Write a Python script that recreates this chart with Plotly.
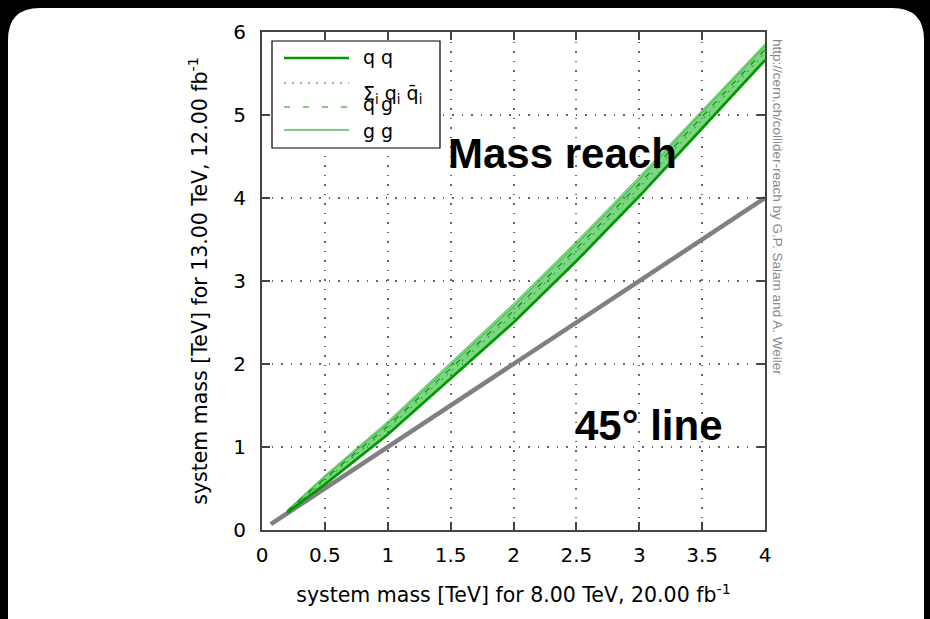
import plotly.graph_objects as go

# ---- data ----
mass_8tev = [0.2, 0.5, 1.0, 1.5, 2.0, 2.5, 3.0, 3.5, 4.0]
band_low = [0.21, 0.55, 1.15, 1.82, 2.50, 3.24, 4.02, 4.84, 5.66]
band_high = [0.24, 0.66, 1.31, 2.02, 2.73, 3.48, 4.26, 5.06, 5.86]
qq = [0.21, 0.55, 1.15, 1.82, 2.50, 3.24, 4.02, 4.84, 5.66]
sum_qqbar = [0.22, 0.60, 1.22, 1.91, 2.60, 3.35, 4.13, 4.94, 5.75]
qg = [0.23, 0.62, 1.25, 1.94, 2.64, 3.39, 4.17, 4.98, 5.79]
gg = [0.235, 0.64, 1.28, 1.98, 2.69, 3.44, 4.22, 5.03, 5.83]
diag_x = [0.07, 4.0]
diag_y = [0.07, 4.0]
x_ticks = [0, 0.5, 1, 1.5, 2, 2.5, 3, 3.5, 4]
y_ticks = [0, 1, 2, 3, 4, 5, 6]

W, H = 930, 619
L, R, T, B = 262, 765, 32, 530


def px(x):
    return (x - L) / (R - L)


def py(y):
    return (B - y) / (B - T)


GREEN = "#009a00"
fig = go.Figure()

fig.add_trace(go.Scatter(x=diag_x, y=diag_y, mode="lines",
                         line=dict(color="#808080", width=4.5), showlegend=False))
fig.add_trace(go.Scatter(x=mass_8tev, y=band_high, mode="lines",
                         line=dict(color="rgba(0,160,0,0.4)", width=1), showlegend=False))
fig.add_trace(go.Scatter(x=mass_8tev, y=band_low, mode="lines", fill="tonexty",
                         fillcolor="rgba(40,185,50,0.6)",
                         line=dict(color="rgba(0,0,0,0)", width=0), showlegend=False))
fig.add_trace(go.Scatter(x=mass_8tev, y=gg, mode="lines", name="g g",
                         line=dict(color="rgba(0,150,0,0.5)", width=1), showlegend=False))
fig.add_trace(go.Scatter(x=mass_8tev, y=qg, mode="lines", name="q g",
                         line=dict(color=GREEN, width=1.2, dash="6px,8px"), showlegend=False))
fig.add_trace(go.Scatter(x=mass_8tev, y=sum_qqbar, mode="lines",
                         line=dict(color=GREEN, width=1, dash="2px,5px"), showlegend=False))
fig.add_trace(go.Scatter(x=mass_8tev, y=qq, mode="lines", name="q q",
                         line=dict(color=GREEN, width=2.8), showlegend=False))

shapes = []
# white rounded card behind everything
x0, y0, x1, y1, r = 8, 8, 924, 660, 32
path = (f"M {px(x0 + r)},{py(y0)} L {px(x1 - r)},{py(y0)} Q {px(x1)},{py(y0)} {px(x1)},{py(y0 + r)} "
        f"L {px(x1)},{py(y1 - r)} Q {px(x1)},{py(y1)} {px(x1 - r)},{py(y1)} "
        f"L {px(x0 + r)},{py(y1)} Q {px(x0)},{py(y1)} {px(x0)},{py(y1 - r)} "
        f"L {px(x0)},{py(y0 + r)} Q {px(x0)},{py(y0)} {px(x0 + r)},{py(y0)} Z")
shapes.append(dict(type="path", path=path, xref="paper", yref="paper",
                   fillcolor="white", line=dict(width=0), layer="below"))

# legend box
shapes.append(dict(type="rect", xref="paper", yref="paper",
                   x0=px(272), x1=px(440), y0=py(148), y1=py(41),
                   fillcolor="white", line=dict(color="black", width=1.2), layer="above"))
leg = [
    (58, dict(color=GREEN, width=2.5)),
    (83, dict(color=GREEN, width=1.2, dash="2px,6px")),
    (107, dict(color=GREEN, width=1.2, dash="6px,13px")),
    (130, dict(color=GREEN, width=1)),
]
for yy, ln in leg:
    shapes.append(dict(type="line", xref="paper", yref="paper",
                       x0=px(284), x1=px(349), y0=py(yy), y1=py(yy), line=ln, layer="above"))

annotations = []
FONT = "DejaVu Sans"
for txt, yy in [("q q", 57), ("Σ<sub>i</sub> q<sub>i</sub> q\u0304<sub>i</sub>", 94),
                ("q g", 104), ("g g", 131)]:
    annotations.append(dict(text=txt, x=px(361), y=py(yy), xref="paper", yref="paper",
                            xanchor="left", yanchor="middle", showarrow=False,
                            font=dict(family=FONT, size=19, color="black")))

annotations.append(dict(text="<b>Mass reach</b>", x=px(562), y=py(153), xref="paper", yref="paper",
                        xanchor="center", yanchor="middle", showarrow=False,
                        font=dict(family="Liberation Sans", size=42, color="black")))
annotations.append(dict(text="<b>45° line</b>", x=px(649), y=py(425), xref="paper", yref="paper",
                        xanchor="center", yanchor="middle", showarrow=False,
                        font=dict(family="Liberation Sans", size=42, color="black")))
annotations.append(dict(text="http://cern.ch/collider-reach by G.P. Salam and A. Weiler",
                        x=px(778), y=py(207), xref="paper", yref="paper", textangle=90,
                        xanchor="center", yanchor="middle",
                        showarrow=False, font=dict(family="Liberation Sans", size=13.5, color="#888888")))

axis_common = dict(showline=True, linecolor="#444444", linewidth=2, mirror="ticks",
                   ticks="inside", ticklen=8, tickcolor="#444444", tickwidth=1.5,
                   showgrid=True, gridcolor="#666666", gridwidth=1.5, griddash="1.5px,8px",
                   zeroline=False, tickfont=dict(family=FONT, size=20, color="black"))

fig.update_layout(
    width=W, height=H,
    margin=dict(l=L, r=W - R, t=T, b=H - B),
    paper_bgcolor="black", plot_bgcolor="white",
    shapes=shapes, annotations=annotations,
    xaxis=dict(range=[0, 4], tickvals=x_ticks, ticktext=[f"{v:g}" for v in x_ticks],
               ticklabelstandoff=6,
               title=dict(text="system mass [TeV] for 8.00 TeV, 20.00 fb<sup>-1</sup>",
                          font=dict(family=FONT, size=20.5, color="black"), standoff=22),
               **axis_common),
    yaxis=dict(range=[0, 6], tickvals=y_ticks, ticktext=[str(v) for v in y_ticks],
               ticklabelstandoff=10,
               title=dict(text="system mass [TeV] for 13.00 TeV, 12.00 fb<sup>-1</sup>",
                          font=dict(family=FONT, size=20.5, color="black"), standoff=20),
               **axis_common),
    showlegend=False,
)

fig.write_html("out.html")
